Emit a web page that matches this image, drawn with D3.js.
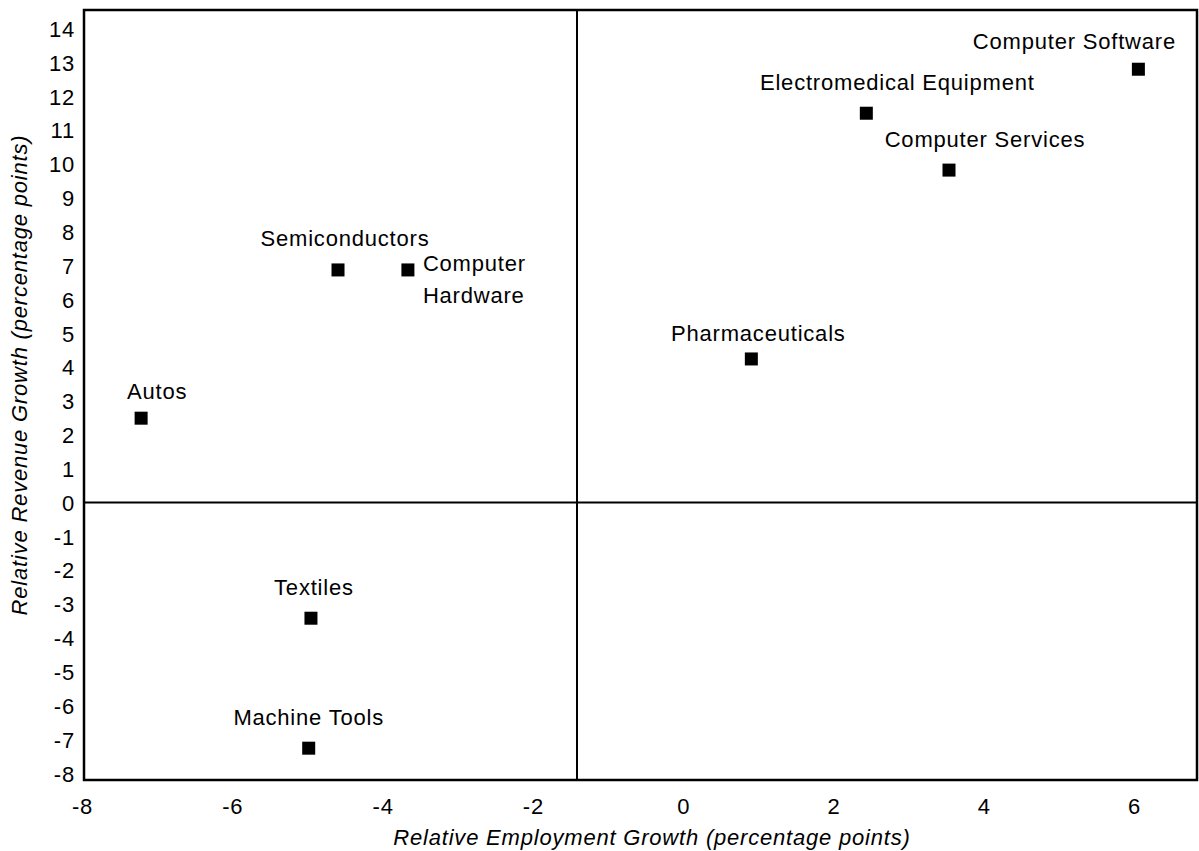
<!DOCTYPE html>
<html>
<head>
<meta charset="utf-8">
<script src="https://cdn.jsdelivr.net/npm/d3@7"></script>
<style>
  html, body { margin: 0; padding: 0; background: #fff; }
  svg { display: block; }
  text { font-family: "Liberation Sans", Arial, sans-serif; fill: #000; }
</style>
</head>
<body>
<svg id="chart" width="1199" height="851"></svg>
<script>
// ---- Data ----
const industries = ["Computer Software", "Electromedical Equipment", "Computer Services",
  "Pharmaceuticals", "Semiconductors", "Computer Hardware", "Autos", "Textiles", "Machine Tools"];
const employmentGrowth = [6.07, 2.45, 3.55, 0.92, -4.58, -3.65, -7.2, -4.94, -4.97];
const revenueGrowth = [12.8, 11.5, 9.82, 4.24, 6.87, 6.87, 2.49, -3.42, -7.26];
const xTicks = [-8, -6, -4, -2, 0, 2, 4, 6];
const yTicks = [-8, -7, -6, -5, -4, -3, -2, -1, 0, 1, 2, 3, 4, 5, 6, 7, 8, 9, 10, 11, 12, 13, 14];
const dividerX = -1.4;
const dividerY = 0;
const xTitle = "Relative Employment Growth (percentage points)";
const yTitle = "Relative Revenue Growth (percentage points)";

// ---- Layout (label offsets in px relative to marker) ----
const labelLayout = {
  "Computer Software": {dx: -64, dy: -28, anchor: "middle"},
  "Electromedical Equipment": {dx: 31, dy: -31, anchor: "middle"},
  "Computer Services": {dx: 36, dy: -31, anchor: "middle"},
  "Pharmaceuticals": {dx: 7, dy: -26, anchor: "middle"},
  "Semiconductors": {dx: 7, dy: -32, anchor: "middle"},
  "Computer Hardware": {dx: 15, dy: -7, anchor: "start", lines: ["Computer", "Hardware"], lineGap: 32},
  "Autos": {dx: 16, dy: -27, anchor: "middle"},
  "Textiles": {dx: 3, dy: -31, anchor: "middle"},
  "Machine Tools": {dx: 0, dy: -31, anchor: "middle"}
};

const pLeft = 84, pRight = 1197, pTop = 10, pBottom = 780;
const FONT = 22, LS = 0.8, CAP = 7.8;

const svg = d3.select("#chart");

const x = d3.scaleLinear().domain([-7.96, 6.85]).range([pLeft, pRight]);
const y = d3.scaleLinear().domain([-8.2, 14.55]).range([pBottom, pTop]);

const fmt = d => String(d);

// Axes (labels only)
const xAxis = svg.append("g").attr("transform", `translate(0,${pBottom})`)
  .call(d3.axisBottom(x).tickValues(xTicks).tickSize(0).tickPadding(0).tickFormat(fmt));
xAxis.select(".domain").remove();
xAxis.selectAll("text").attr("y", 0).attr("dy", 0)
  .attr("transform", "translate(1,34)")
  .style("font-size", FONT + "px").style("letter-spacing", LS + "px")
  .style("font-family", "Liberation Sans, Arial, sans-serif").attr("fill", "#000");

const yAxis = svg.append("g").attr("transform", `translate(${pLeft},0)`)
  .call(d3.axisLeft(y).tickValues(yTicks).tickSize(0).tickPadding(0).tickFormat(fmt));
yAxis.select(".domain").remove();
yAxis.selectAll("text").attr("x", -9).attr("dy", 0)
  .attr("transform", `translate(0,${CAP})`)
  .style("font-size", FONT + "px").style("letter-spacing", LS + "px")
  .style("font-family", "Liberation Sans, Arial, sans-serif").attr("fill", "#000");

// Frame
svg.append("rect")
  .attr("x", pLeft).attr("y", pTop)
  .attr("width", pRight - pLeft).attr("height", pBottom - pTop)
  .attr("fill", "none").attr("stroke", "#000").attr("stroke-width", 2.5);

// Quadrant dividers
svg.append("line")
  .attr("x1", x(dividerX)).attr("x2", x(dividerX))
  .attr("y1", pTop).attr("y2", pBottom)
  .attr("stroke", "#000").attr("stroke-width", 2);
svg.append("line")
  .attr("x1", pLeft).attr("x2", pRight)
  .attr("y1", y(dividerY)).attr("y2", y(dividerY))
  .attr("stroke", "#000").attr("stroke-width", 2);

// Points
const pts = industries.map((n, i) => ({name: n, ex: employmentGrowth[i], rv: revenueGrowth[i]}));
const S = 13;
svg.append("g").selectAll("rect").data(pts).join("rect")
  .attr("x", d => x(d.ex) - S / 2)
  .attr("y", d => y(d.rv) - S / 2)
  .attr("width", S).attr("height", S)
  .attr("fill", "#000");

// Labels
const lg = svg.append("g");
pts.forEach(d => {
  const L = labelLayout[d.name];
  const lines = L.lines || [d.name];
  const t = lg.append("text")
    .attr("text-anchor", L.anchor)
    .style("font-size", FONT + "px").style("letter-spacing", LS + "px");
  lines.forEach((ln, k) => {
    t.append("tspan")
      .attr("x", x(d.ex) + L.dx)
      .attr("y", y(d.rv) + L.dy + CAP + k * (L.lineGap || 0))
      .text(ln);
  });
});

// Axis titles
svg.append("text")
  .attr("x", 652).attr("y", 845)
  .attr("text-anchor", "middle")
  .style("font-size", FONT + "px").style("letter-spacing", LS + "px").style("font-style", "italic")
  .text(xTitle);

svg.append("text")
  .attr("transform", `translate(27,375) rotate(-90)`)
  .attr("text-anchor", "middle")
  .style("font-size", FONT + "px").style("letter-spacing", LS + "px").style("font-style", "italic")
  .text(yTitle);
</script>
</body>
</html>
